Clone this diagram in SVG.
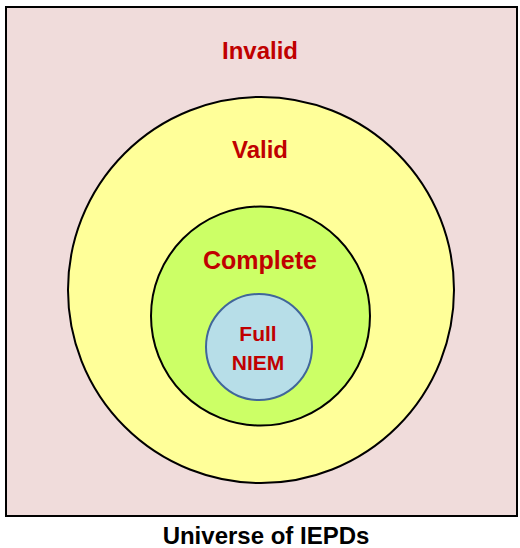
<svg xmlns="http://www.w3.org/2000/svg" width="520" height="548" viewBox="0 0 520 548">
<style>
.lbl{font-family:"Liberation Sans",Arial,sans-serif;font-weight:bold;fill:#C00000;text-anchor:middle}
.ttl{font-family:"Liberation Sans",Arial,sans-serif;font-weight:bold;fill:#000;text-anchor:middle;font-size:24px}
</style>
<rect width="520" height="548" fill="#FFFFFF"/>
<g id="invalid">
<rect x="6" y="7" width="511" height="509" fill="#F0DCDB" stroke="#000" stroke-width="2"/>
<text class="lbl" x="260" y="59" font-size="24">Invalid</text>
</g>
<g id="valid">
<circle cx="261" cy="290" r="193" fill="#FFFF99" stroke="#000" stroke-width="2"/>
<text class="lbl" x="260" y="158" font-size="24">Valid</text>
</g>
<g id="complete">
<circle cx="260.5" cy="316" r="109.5" fill="#CCFF66" stroke="#000" stroke-width="2"/>
<text class="lbl" x="260" y="269" font-size="25">Complete</text>
</g>
<g id="fullniem">
<circle cx="259" cy="347" r="53" fill="#B7DEE8" stroke="#41669A" stroke-width="2"/>
<text class="lbl" x="258" y="341" font-size="21">Full</text>
<text class="lbl" x="258" y="370" font-size="21">NIEM</text>
</g>
<g id="connectors"/>
<text class="ttl" x="266" y="544">Universe of IEPDs</text>
</svg>
